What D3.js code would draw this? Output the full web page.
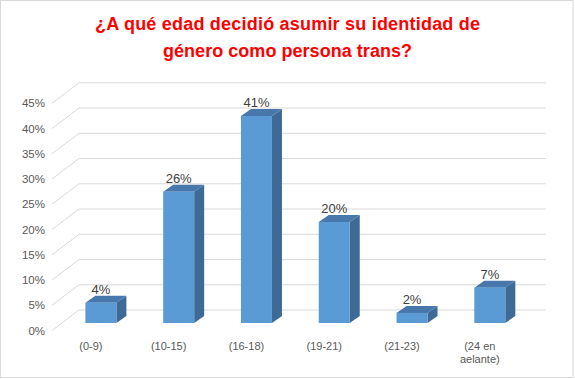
<!DOCTYPE html>
<html><head><meta charset="utf-8">
<script src="https://cdn.jsdelivr.net/npm/d3@7"></script>
<style>html,body{margin:0;padding:0;background:#fff;}svg{display:block;}</style>
</head><body>
<svg id="c" width="575" height="379"></svg>
<script>
const titleLines = ["¿A qué edad decidió asumir su identidad de", "género como persona trans?"];
const categories = ["(0-9)", "(10-15)", "(16-18)", "(19-21)", "(21-23)", "(24 en aelante)"];
const categoryLines = [["(0-9)"], ["(10-15)"], ["(16-18)"], ["(19-21)"], ["(21-23)"], ["(24 en", "aelante)"]];
const values = [4, 26, 41, 20, 2, 7];
const valueLabels = ["4%", "26%", "41%", "20%", "2%", "7%"];
const ticks = [0, 5, 10, 15, 20, 25, 30, 35, 40, 45];
const tickLabels = ["0%", "5%", "10%", "15%", "20%", "25%", "30%", "35%", "40%", "45%"];

const svg = d3.select("#c");
const font = "'Liberation Sans', Arial, sans-serif";

// border
svg.append("rect").attr("x", 0.5).attr("y", 0.5).attr("width", 572.5).attr("height", 377)
  .attr("fill", "#fff").attr("stroke", "#d9d9d9").attr("stroke-width", 1);

// title
const titleW = [385, 249];
titleLines.forEach((t, i) => {
  svg.append("text").attr("x", 287.5).attr("y", 30 + i * 26.5)
    .attr("text-anchor", "middle").attr("font-family", font).attr("font-weight", "bold")
    .attr("font-size", 18).attr("fill", "#ff0000")
    .attr("textLength", titleW[i]).attr("lengthAdjust", "spacing")
    .text(t);
});

// scales (front plane)
const x = d3.scaleBand().domain(categories).range([52, 518.7]).paddingInner(0).paddingOuter(0);
const y = d3.scaleLinear().domain([0, 45]).range([330.5, 103.3]);
const DX = 27, DY = -20.5;      // wall depth offset
const fx = 10, fy = -7.5;       // bar front-face offset
const bdx = 10, bdy = -7;       // bar depth
const bw = 31;

// gridlines
const g = svg.append("g").attr("stroke", "#d9d9d9").attr("stroke-width", 1).attr("fill", "none");
ticks.forEach(t => {
  const yy = y(t);
  g.append("line").attr("x1", 52).attr("y1", yy).attr("x2", 52 + DX).attr("y2", yy + DY);
  g.append("line").attr("x1", 52 + DX).attr("y1", yy + DY).attr("x2", x.range()[1] + DX).attr("y2", yy + DY);
});

// tick labels
svg.append("g").selectAll("text").data(ticks).join("text")
  .attr("x", 45).attr("y", d => y(d)).attr("dy", "0.35em")
  .attr("text-anchor", "end").attr("font-family", font).attr("font-size", 11.5).attr("fill", "#595959")
  .text((d, i) => tickLabels[i]);

// bars
const bars = svg.append("g");
categories.forEach((c, i) => {
  const cx = x(c) + x.bandwidth() / 2 + fx;
  const x0 = cx - bw / 2, x1 = cx + bw / 2;
  const yt = y(values[i]) + fy, yb = y(0) + fy;
  // side
  bars.append("path").attr("d", `M${x1},${yb}L${x1 + bdx},${yb + bdy}L${x1 + bdx},${yt + bdy}L${x1},${yt}Z`)
    .attr("fill", "#3d6a96");
  // top
  bars.append("path").attr("d", `M${x0},${yt}L${x0 + bdx},${yt + bdy}L${x1 + bdx},${yt + bdy}L${x1},${yt}Z`)
    .attr("fill", "#4878ab");
  // front
  bars.append("rect").attr("x", x0).attr("y", yt).attr("width", bw).attr("height", yb - yt)
    .attr("fill", "#5b9bd5");
  // value label
  svg.append("text").attr("x", cx).attr("y", yt - 9).attr("text-anchor", "middle")
    .attr("font-family", font).attr("font-size", 13).attr("fill", "#404040")
    .text(valueLabels[i]);
});

// category labels
categories.forEach((c, i) => {
  const t = svg.append("text").attr("x", x(c) + x.bandwidth() / 2).attr("y", 350)
    .attr("text-anchor", "middle").attr("font-family", font).attr("font-size", 11).attr("fill", "#595959");
  categoryLines[i].forEach((ln, j) => {
    t.append("tspan").attr("x", x(c) + x.bandwidth() / 2).attr("dy", j === 0 ? 0 : 13).text(ln);
  });
});
</script>
</body></html>
